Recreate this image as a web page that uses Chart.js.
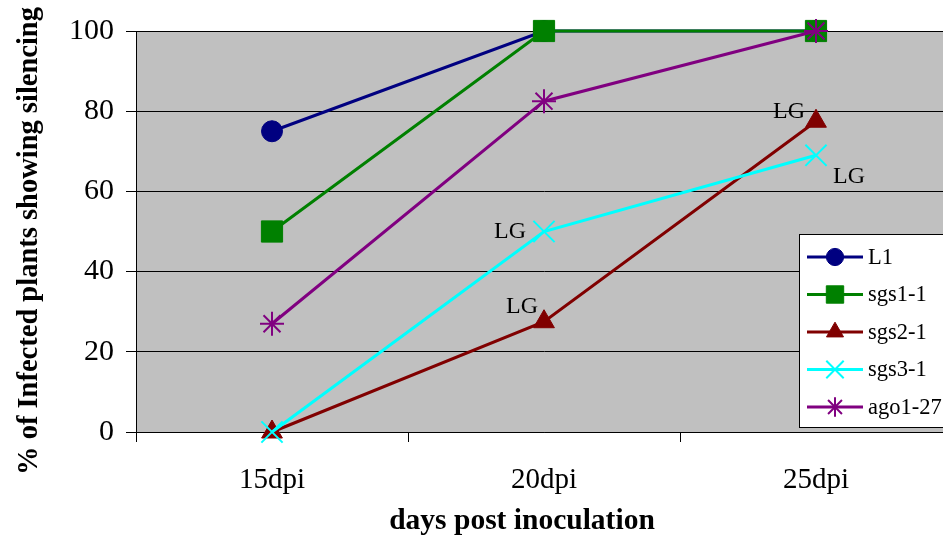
<!DOCTYPE html>
<html>
<head>
<meta charset="utf-8">
<script src="https://cdn.jsdelivr.net/npm/chart.js@4/dist/chart.umd.min.js"></script>
<style>
  html, body { margin: 0; padding: 0; background: #fff; overflow: hidden; }
  /* plot runs past the right edge of the window, as in the original crop */
  #wrap { width: 969px; height: 535px; position: relative; }
</style>
</head>
<body>
<div id="wrap"><canvas id="c"></canvas></div>
<script>
// Data
const categories = ["15dpi", "20dpi", "25dpi"];
const L1 = [75, 100, 100];
const sgs1_1 = [50, 100, 100];
const sgs2_1 = [0, 27.5, 77.5];
const sgs3_1 = [0, 50, 69];
const ago1_27 = [27, 82.5, 100];
const yMin = 0, yMax = 100, yStep = 20;

// "LG" notes: [series index, point index]
const lgNotes = [[2, 1], [2, 2], [3, 1], [3, 2]];

const SERIF = "'Liberation Serif', 'Times New Roman', serif";

const seriesDefs = [
  { label: "L1", data: L1, color: "#000080", style: "circle", radius: 10.5, bw: 1 },
  { label: "sgs1-1", data: sgs1_1, color: "#008000", style: "rect", radius: 15, bw: 1 },
  { label: "sgs2-1", data: sgs2_1, color: "#800000", style: "triangle", radius: 12, bw: 1 },
  { label: "sgs3-1", data: sgs3_1, color: "#00ffff", style: "crossRot", radius: 15, bw: 2 },
  { label: "ago1-27", data: ago1_27, color: "#800080", style: "star", radius: 12, bw: 2 },
];

const datasets = seriesDefs.map((s, i) => ({
  label: s.label,
  data: s.data,
  borderColor: s.color,
  backgroundColor: s.color,
  borderWidth: 3,
  tension: 0,
  pointStyle: s.style,
  pointRadius: s.radius,
  pointHoverRadius: s.radius,
  pointBorderWidth: s.bw,
  pointBackgroundColor: s.color,
  pointBorderColor: s.color,
  clip: false,
  order: -i, // later series on top, like the original
}));

const plotBg = {
  id: "plotBg",
  beforeDraw(chart) {
    const { ctx, chartArea: a } = chart;
    ctx.save();
    ctx.fillStyle = "#c0c0c0";
    ctx.fillRect(a.left, a.top, a.right - a.left, a.bottom - a.top);
    ctx.restore();
  },
};

function marker(ctx, s, x, y, r) {
  ctx.fillStyle = s.color;
  ctx.strokeStyle = s.color;
  ctx.lineWidth = s.bw;
  const h = window.Chart.helpers;
  if (h && h.drawPoint) {
    h.drawPoint(ctx, { pointStyle: s.style, rotation: 0, radius: r, borderWidth: s.bw }, x, y);
  } else {
    ctx.beginPath(); ctx.arc(x, y, r, 0, Math.PI * 2); ctx.fill();
  }
}

// titles, "LG" notes and the boxed legend inside the plot
const overlay = {
  id: "overlay",
  afterDatasetsDraw(chart) {
    const ctx = chart.ctx;
    ctx.save();
    ctx.fillStyle = "#000";
    ctx.font = "24px " + SERIF;
    const offs = [
      { dx: -6, dy: -9, align: "right" },
      { dx: -11, dy: -3, align: "right" },
      { dx: -18, dy: 6, align: "right" },
      { dx: 17, dy: 28, align: "left" },
    ];
    lgNotes.forEach(([si, pi], k) => {
      const p = chart.getDatasetMeta(si).data[pi];
      ctx.textAlign = offs[k].align;
      ctx.textBaseline = "alphabetic";
      ctx.fillText("LG", p.x + offs[k].dx, p.y + offs[k].dy);
    });
    ctx.restore();
  },
  afterDraw(chart) {
    const ctx = chart.ctx;
    ctx.save();
    // axis titles
    ctx.fillStyle = "#000";
    ctx.textAlign = "center";
    ctx.textBaseline = "alphabetic";
    ctx.font = "bold 29.5px " + SERIF;
    ctx.fillText("days post inoculation", 522, 529);
    ctx.font = "bold 28.5px " + SERIF;
    ctx.translate(37, 241);
    ctx.rotate(-Math.PI / 2);
    ctx.fillText("% of Infected plants showing silencing", 0, 0);
    ctx.restore();

    // legend box
    ctx.save();
    const bx = 799.5, by = 234.5, bw = 200, bh = 193;
    ctx.fillStyle = "#fff";
    ctx.fillRect(bx, by, bw, bh);
    ctx.strokeStyle = "#000";
    ctx.lineWidth = 1;
    ctx.strokeRect(bx, by, bw, bh);
    ctx.font = "22.5px " + SERIF;
    ctx.textAlign = "left";
    ctx.textBaseline = "middle";
    seriesDefs.forEach((s, i) => {
      const y = 257 + i * 37.5;
      ctx.strokeStyle = s.color;
      ctx.lineWidth = 3;
      ctx.beginPath();
      ctx.moveTo(807, y);
      ctx.lineTo(863, y);
      ctx.stroke();
      marker(ctx, s, 835, y, s.radius * 0.82);
      ctx.fillStyle = "#000";
      ctx.fillText(s.label, 868, y + 1);
    });
    ctx.restore();
  },
};

new Chart(document.getElementById("c"), {
  type: "line",
  data: { labels: categories, datasets },
  options: {
    responsive: true,
    maintainAspectRatio: false,
    devicePixelRatio: 1,
    animation: false,
    events: [],
    layout: { padding: { left: 0, top: 31, right: 8, bottom: 0 } },
    plugins: { legend: { display: false }, tooltip: { enabled: false } },
    scales: {
      x: {
        offset: true,
        afterFit: (s) => { s.height = 103; s.paddingLeft = 0; s.paddingRight = 0; },
        grid: { offset: true, drawOnChartArea: false, drawTicks: true, tickLength: 10, color: "#000" },
        border: { display: true, color: "#000", width: 1 },
        ticks: { color: "#000", font: { family: SERIF, size: 29 }, padding: 21, maxRotation: 0 },
      },
      y: {
        min: yMin,
        max: yMax,
        afterFit: (s) => { s.width = 136; s.paddingTop = 0; s.paddingBottom = 0; },
        grid: { color: "#000", lineWidth: 1, drawTicks: true, tickLength: 10 },
        border: { display: true, color: "#000", width: 1 },
        ticks: { stepSize: yStep, color: "#000", font: { family: SERIF, size: 30 }, padding: 12 },
      },
    },
  },
  plugins: [plotBg, overlay],
});
</script>
</body>
</html>
